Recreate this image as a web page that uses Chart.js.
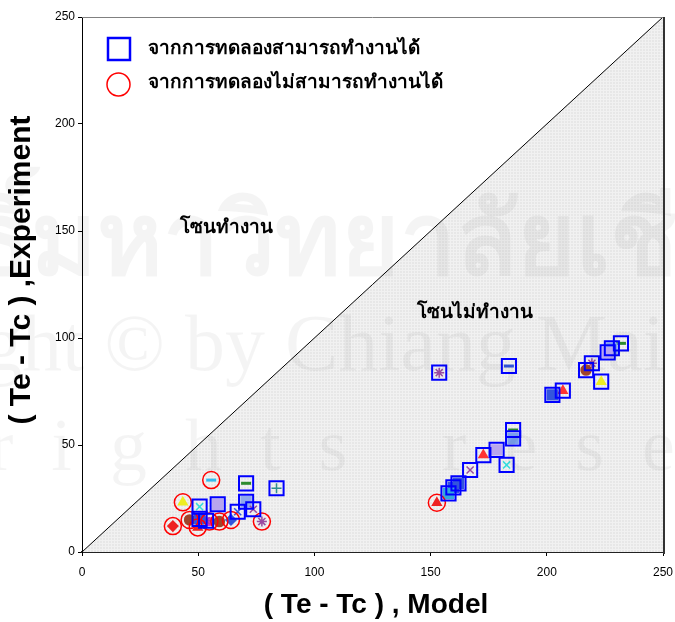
<!DOCTYPE html>
<html>
<head>
<meta charset="utf-8">
<script src="https://cdn.jsdelivr.net/npm/chart.js@4.4.0/dist/chart.umd.min.js"></script>
<style>
  html, body { margin: 0; padding: 0; background: #fff; }
  #wrap { width: 675px; height: 622px; position: relative; }
</style>
</head>
<body>
<div id="wrap"><canvas id="c" width="675" height="622"></canvas></div>
<script>
// experiment points that worked (blue squares)
const worksX = [70.6, 83.7, 50.6, 58.4, 70.6, 67.0, 73.7, 53.4, 50.6,
  153.7, 183.7, 231.9, 228.0, 226.2, 219.4, 216.9, 223.4, 206.9, 202.4,
  185.5, 185.5, 178.4, 172.7, 182.7, 167.0, 162.0, 159.8, 157.7];
const worksY = [32.1, 29.8, 21.2, 22.3, 23.5, 18.8, 20.0, 14.6, 15.5,
  83.8, 86.9, 97.5, 95.2, 93.3, 88.2, 85.0, 79.6, 75.4, 73.4,
  57.0, 53.1, 47.7, 45.3, 40.7, 38.3, 32.1, 30.2, 27.4];

// experiment points that did not work (red circles)
const failsX = [55.6, 43.4, 39.1, 46.3, 49.8, 54.8, 59.1, 64.1, 77.4, 152.7];
const failsY = [33.6, 23.2, 12.1, 15.0, 11.5, 14.2, 14.2, 15.0, 14.2, 23.0];

const axisTicks = [0, 50, 100, 150, 200, 250];
const legendLabels = ['จากการทดลองสามารถทำงานได้', 'จากการทดลองไม่สามารถทำงานได้'];
const zoneLabels = ['โซนทำงาน', 'โซนไม่ทำงาน'];

// little excel-style markers sitting inside the squares / circles
const worksMarks = [
  ['line', '#2e8b2e'], ['cross', '#2f8f8f'], ['crossRot', '#33dddd'], ['rect', '#b8a6ee'],
  ['rect', '#8fa8ee'], ['crossRot', '#3355dd'], ['crossRot', '#9a4aa0'], ['star', '#9a4aa0'], ['rect', '#3355dd'],
  ['star', '#9a4aa0'], ['line', '#3355dd'], ['line', '#2e8b2e'], ['rect', '#7aa0ee'], ['rect', '#b8a6ee'],
  ['star', '#9a4aa0'], ['circle', '#a0442a'], ['triangle', '#eeee22'], ['triangle', '#ff3333'], ['rect', '#3355dd'],
  ['line', '#2e8b2e'], ['rect', '#7aa0ee'], ['rect', '#b8a6ee'], ['triangle', '#ff3333'], ['crossRot', '#33dddd'],
  ['crossRot', '#9a4aa0'], ['rect', '#3355dd'], ['rect', '#3355dd'], ['rect', '#33aadd']
];
const failsMarks = [
  ['line', '#33bbee'], ['triangle', '#eeee22'], ['rectRot', '#ee2222'], ['circle', '#a0442a'],
  ['triangle', '#ee2222'], ['rect', '#dd22dd'], ['circle', '#a0442a'], ['rectRot', '#3355dd'],
  ['star', '#9a4aa0'], ['triangle', '#ee2222']
];

const pts = (xs, ys) => xs.map((x, i) => ({ x, y: ys[i] }));

const canvas = document.getElementById('c');
const ctx = canvas.getContext('2d');

// fine grey grid pattern for the "no work" zone
const tile = document.createElement('canvas');
tile.width = 3; tile.height = 3;
const tg = tile.getContext('2d');
tg.fillStyle = '#e7e7e7'; tg.fillRect(0, 0, 3, 3);
tg.fillStyle = '#f1f1f1'; tg.fillRect(0, 0, 3, 1); tg.fillRect(0, 0, 1, 3);
const greyPattern = ctx.createPattern(tile, 'repeat');

const thaiFont = '"DejaVu Sans", sans-serif';

const frame = {
  id: 'frame',
  beforeDraw(chart) {
    const c = chart.ctx;
    c.save();
    c.fillStyle = '#fff';
    c.fillRect(0, 0, chart.width, chart.height);
    c.restore();
  },
  afterDatasetsDraw(chart) {
    const c = chart.ctx;
    const a = chart.chartArea;
    c.save();

    // faint page watermark
    c.fillStyle = 'rgba(0,0,0,0.045)';
    c.textBaseline = 'alphabetic';
    c.textAlign = 'center';
    c.font = 'bold 100px ' + thaiFont;
    c.fillText('ลิขสิทธิ์มหาวิทยาลัยเชียงใหม่', 340, 274);
    c.textAlign = 'left';
    c.font = '80px "Liberation Serif", serif';
    const pre = c.measureText('Copyright © ').width;
    c.fillText('Copyright © by Chiang Mai University', 185 - pre, 370);
    c.textAlign = 'center';
    c.font = '74px "Liberation Serif", serif';
    c.letterSpacing = '38px';
    c.fillText('All rights reserved', 360, 470);
    c.letterSpacing = '0px';

    // top and right frame
    c.strokeStyle = '#808080';
    c.lineWidth = 1;
    c.beginPath();
    c.moveTo(a.left, a.top + 0.5);
    c.lineTo(a.right, a.top + 0.5);
    c.stroke();
    c.strokeStyle = '#333';
    c.lineWidth = 2;
    c.beginPath();
    c.moveTo(a.right + 1, a.top);
    c.lineTo(a.right + 1, a.bottom + 2);
    c.stroke();

    // zone labels
    c.fillStyle = '#000';
    c.textAlign = 'left';
    c.textBaseline = 'middle';
    c.font = 'bold 19px ' + thaiFont;
    c.fillText(zoneLabels[0], 180, 228);
    c.fillText(zoneLabels[1], 417, 313);

    // legend
    c.strokeStyle = '#0000ff';
    c.lineWidth = 2.5;
    c.strokeRect(108, 38, 22, 22);
    c.strokeStyle = '#ff0000';
    c.lineWidth = 1.5;
    c.beginPath();
    c.arc(118.5, 84.5, 11.5, 0, Math.PI * 2);
    c.stroke();
    c.fillStyle = '#000';
    c.font = 'bold 19px ' + thaiFont;
    c.fillText(legendLabels[0], 148, 49);
    c.fillText(legendLabels[1], 148, 83);

    // axis titles
    c.font = 'bold 28px "Liberation Sans", Arial, sans-serif';
    c.textAlign = 'center';
    c.fillText('( Te - Tc ) , Model', 376, 605);
    c.font = 'bold 30px "Liberation Sans", Arial, sans-serif';
    c.translate(22, 270);
    c.rotate(-Math.PI / 2);
    c.fillText('( Te - Tc ) ,Experiment', 0, 0);
    c.restore();
  }
};

new Chart(ctx, {
  type: 'scatter',
  data: {
    datasets: [
      {
        label: 'works',
        data: pts(worksX, worksY),
        pointStyle: 'rect',
        pointRadius: 10,
        pointBorderWidth: 2,
        borderColor: '#0000ff',
        backgroundColor: 'rgba(0,0,0,0)',
        order: 1
      },
      {
        label: 'fails',
        data: pts(failsX, failsY),
        pointStyle: 'circle',
        pointRadius: 8.5,
        pointBorderWidth: 1.5,
        borderColor: '#ff0000',
        backgroundColor: 'rgba(0,0,0,0)',
        order: 2
      },
      {
        label: 'inner works',
        data: pts(worksX, worksY),
        pointStyle: c => worksMarks[c.dataIndex][0],
        pointRadius: c => worksMarks[c.dataIndex][0] === 'rect' ? 7 : 5,
        pointBorderWidth: c => worksMarks[c.dataIndex][0] === 'line' ? 3 : 1.5,
        borderColor: c => worksMarks[c.dataIndex][1],
        backgroundColor: c => worksMarks[c.dataIndex][1],
        order: 3
      },
      {
        label: 'inner fails',
        data: pts(failsX, failsY),
        pointStyle: c => failsMarks[c.dataIndex][0],
        pointRadius: 5,
        pointBorderWidth: c => failsMarks[c.dataIndex][0] === 'line' ? 3 : 1.5,
        borderColor: c => failsMarks[c.dataIndex][1],
        backgroundColor: c => failsMarks[c.dataIndex][1],
        order: 4
      },
      {
        type: 'line',
        label: 'y = x',
        data: [{ x: 0, y: 0 }, { x: 250, y: 250 }],
        borderColor: '#000',
        borderWidth: 1,
        pointRadius: 0,
        fill: 'origin',
        backgroundColor: greyPattern,
        order: 10
      }
    ]
  },
  options: {
    responsive: false,
    animation: false,
    layout: { padding: { top: 17, right: 10, left: 0, bottom: 0 } },
    plugins: { legend: { display: false }, tooltip: { enabled: false } },
    scales: {
      x: {
        type: 'linear', min: 0, max: 250,
        afterBuildTicks: s => { s.ticks = axisTicks.map(v => ({ value: v })); },
        afterFit: s => { s.height = 70; s.paddingLeft = 0; s.paddingRight = 0; },
        ticks: { color: '#000', font: { family: '"Liberation Sans", Arial, sans-serif', size: 12 }, padding: 9, maxRotation: 0 },
        grid: { drawOnChartArea: false, tickLength: 4, color: '#000' },
        border: { color: '#222', width: 2 }
      },
      y: {
        type: 'linear', min: 0, max: 250,
        afterBuildTicks: s => { s.ticks = axisTicks.map(v => ({ value: v })); },
        afterFit: s => { s.width = 82; s.paddingTop = 0; s.paddingBottom = 0; },
        ticks: { color: '#000', font: { family: '"Liberation Sans", Arial, sans-serif', size: 12 }, padding: 3 },
        grid: { drawOnChartArea: false, tickLength: 4, color: '#000' },
        border: { color: '#000', width: 1 }
      }
    }
  },
  plugins: [frame]
});
</script>
</body>
</html>
